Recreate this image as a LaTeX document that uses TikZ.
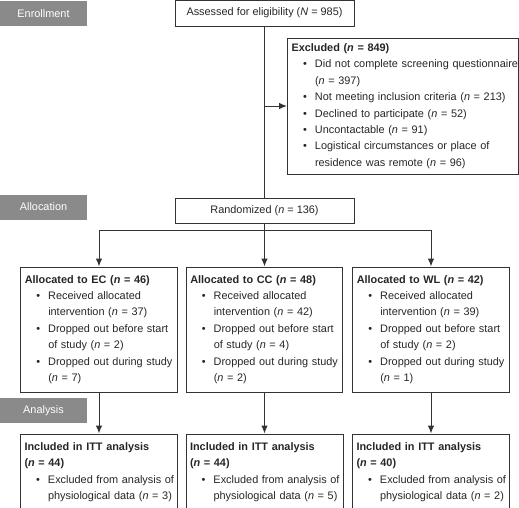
\documentclass[tikz,border=0pt]{standalone}
\usepackage{fontspec}
\setmainfont{Liberation Sans}
\usetikzlibrary{arrows.meta, positioning}

\definecolor{stagegray}{HTML}{8A8A8A}
\definecolor{linegray}{HTML}{333333}

\newcommand{\nn}{\textit{n}}
\newcommand{\bitem}[1]{\hspace*{11.5pt}\makebox[12pt][l]{\textbullet}\mbox{#1}}
\newcommand{\bcont}[1]{\hspace*{23.5pt}\mbox{#1}}

\begin{document}
\begin{tikzpicture}[
        every node/.style={
            font=\fontsize{10.9}{16.4}\selectfont,
            text=black!85
        },
        box/.style={
            rectangle,
            draw=linegray,
            line width=1pt,
            minimum width=179pt,
            minimum height=25pt,
            inner sep=0pt
        },
        listbox/.style={
            rectangle,
            draw=linegray,
            line width=1pt,
            inner xsep=4pt,
            inner ysep=0pt,
            align=left
        },
        group/.style={listbox, text width=148.5pt, minimum height=125pt},
        itt/.style={listbox, text width=149pt, minimum height=76pt},
        stage/.style={
            rectangle,
            fill=stagegray,
            text=white,
            minimum width=87pt,
            minimum height=25pt,
            inner sep=0pt
        },
        link/.style={line width=1pt, linegray},
        arrow/.style={
            -{Latex[length=8pt,width=6.5pt]},
            line width=1pt,
            linegray
        }
    ]
    \useasboundingbox (0,0) rectangle (519pt,-507pt);

    % Stage labels (left column)
    \node[stage] (enrol)    at (43.5pt,-13.5pt)  {Enrollment};
    \node[stage] (alloc)    at (43.5pt,-207pt)   {Allocation};
    \node[stage] (analysis) at (43.5pt,-410.5pt) {Analysis};

    % Enrollment
    \node[box, minimum height=26pt] (assess) at (264.5pt,-13pt)
        {Assessed for eligibility (\textit{N} = 985)};
    \node[listbox, text width=223pt, minimum height=136pt,
          below right=11pt and 22.5pt of assess.south] (excl)
        {\mbox{\bfseries Excluded (\nn{} = 849)}\\
         \bitem{Did not complete screening questionnaire}\\
         \bcont{(\nn{} = 397)}\\
         \bitem{Not meeting inclusion criteria (\nn{} = 213)}\\
         \bitem{Declined to participate (\nn{} = 52)}\\
         \bitem{Uncontactable (\nn{} = 91)}\\
         \bitem{Logistical circumstances or place of}\\
         \bcont{residence was remote (\nn{} = 96)}};

    % Allocation
    \node[box, below=171pt of assess] (random) {Randomized (\nn{} = 136)};
    \node[group, below=43pt of random] (cc)
        {\mbox{\bfseries Allocated to CC (\nn{} = 48)}\\
         \bitem{Received allocated}\\
         \bcont{intervention (\nn{} = 42)}\\
         \bitem{Dropped out before start}\\
         \bcont{of study (\nn{} = 4)}\\
         \bitem{Dropped out during study}\\
         \bcont{(\nn{} = 2)}};
    \node[group, left=8pt of cc] (ec)
        {\mbox{\bfseries Allocated to EC (\nn{} = 46)}\\
         \bitem{Received allocated}\\
         \bcont{intervention (\nn{} = 37)}\\
         \bitem{Dropped out before start}\\
         \bcont{of study (\nn{} = 2)}\\
         \bitem{Dropped out during study}\\
         \bcont{(\nn{} = 7)}};
    \node[group, right=9pt of cc] (wl)
        {\mbox{\bfseries Allocated to WL (\nn{} = 42)}\\
         \bitem{Received allocated}\\
         \bcont{intervention (\nn{} = 39)}\\
         \bitem{Dropped out before start}\\
         \bcont{of study (\nn{} = 2)}\\
         \bitem{Dropped out during study}\\
         \bcont{(\nn{} = 1)}};

    % Analysis
    \node[itt, below=41pt of ec] (ecitt)
        {\mbox{\bfseries Included in ITT analysis}\\
         \mbox{\bfseries (\nn{} = 44)}\\
         \bitem{Excluded from analysis of}\\
         \bcont{physiological data (\nn{} = 3)}};
    \node[itt, below=41pt of cc] (ccitt)
        {\mbox{\bfseries Included in ITT analysis}\\
         \mbox{\bfseries (\nn{} = 44)}\\
         \bitem{Excluded from analysis of}\\
         \bcont{physiological data (\nn{} = 5)}};
    \node[itt, below=41pt of wl] (wlitt)
        {\mbox{\bfseries Included in ITT analysis}\\
         \mbox{\bfseries (\nn{} = 40)}\\
         \bitem{Excluded from analysis of}\\
         \bcont{physiological data (\nn{} = 2)}};

    % Connectors
    \draw[link] (assess) -- (random);
    \draw[arrow] (excl.west -| assess.south) -- (excl.west);
    \draw[arrow] (random) -- (cc);
    \draw[arrow] (random.south) -- ++(0,-7pt) -| (ec.north);
    \draw[arrow] (random.south) -- ++(0,-7pt) -| (wl.north);
    \draw[arrow] (ec) -- (ecitt);
    \draw[arrow] (cc) -- (ccitt);
    \draw[arrow] (wl) -- (wlitt);

\end{tikzpicture}
\end{document}
